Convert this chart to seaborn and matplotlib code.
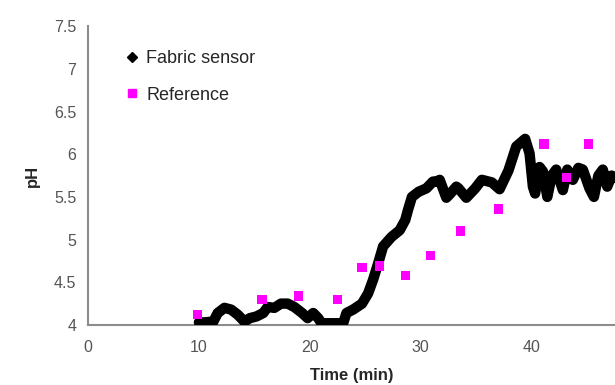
import numpy as np
import pandas as pd
import seaborn as sns
import matplotlib.pyplot as plt
from matplotlib.lines import Line2D

# Fabric sensor trace
sensor_time = [10.0, 10.5, 11.3, 11.7, 12.3, 12.9, 13.5, 14.1, 14.6, 15.2,
               15.8, 16.2, 16.8, 17.4, 18.0, 18.6, 19.3, 19.8, 20.3, 20.75,
               21.05, 22.0, 23.0, 23.3, 23.9, 24.7, 25.25, 25.7, 26.15, 26.6,
               27.35, 28.1, 28.6, 28.85, 29.2, 29.8, 30.5, 31.1, 31.4, 31.7,
               32.3, 32.6, 33.2, 33.4, 34.1, 34.9, 35.5, 36.4, 37.1, 37.9,
               38.6, 39.4, 39.8, 40.1, 40.3, 40.7, 41.0, 41.4, 41.8, 42.2,
               42.8, 43.2, 43.7, 44.2, 44.6, 45.2, 45.6, 46.0, 46.4, 46.8,
               47.2, 47.6]
sensor_ph = [4.03, 4.03, 4.04, 4.14, 4.20, 4.18, 4.12, 4.04, 4.08, 4.10,
             4.14, 4.21, 4.20, 4.25, 4.25, 4.21, 4.14, 4.08, 4.14, 4.08,
             4.02, 4.02, 4.02, 4.14, 4.18, 4.25, 4.37, 4.53, 4.72, 4.92,
             5.03, 5.11, 5.23, 5.35, 5.50, 5.56, 5.60, 5.68, 5.68, 5.70,
             5.49, 5.53, 5.62, 5.60, 5.49, 5.60, 5.70, 5.67, 5.59, 5.81,
             6.09, 6.18, 6.01, 5.62, 5.54, 5.85, 5.80, 5.50, 5.75, 5.82,
             5.58, 5.82, 5.70, 5.84, 5.82, 5.60, 5.50, 5.75, 5.82, 5.62,
             5.75, 5.72]

# Reference measurements
ref_time = [9.85, 15.7, 18.95, 22.5, 24.7, 26.3, 28.6, 30.9, 33.6, 37.0,
            41.1, 43.1, 45.1]
ref_ph = [4.12, 4.30, 4.34, 4.30, 4.67, 4.69, 4.58, 4.81, 5.10, 5.36,
          6.12, 5.73, 6.12]

sensor = pd.DataFrame({'time': sensor_time, 'ph': sensor_ph})
ref = pd.DataFrame({'time': ref_time, 'ph': ref_ph})

sns.set_style('white')
plt.rcParams['font.family'] = ['Liberation Sans', 'DejaVu Sans']

fig = plt.figure(figsize=(6.15, 3.85), dpi=100)
ax = fig.add_axes([0.143, 0.156, 0.857, 0.776])

sns.lineplot(data=sensor, x='time', y='ph', color='black', linewidth=7.5,
             solid_joinstyle='round', solid_capstyle='round', ax=ax,
             zorder=2)
sns.scatterplot(data=ref, x='time', y='ph', color='#ff00ff', marker='s',
                s=45, edgecolor='none', ax=ax, zorder=3)

ax.set_xlim(0, 47.5)
ax.set_ylim(4, 7.5)
ax.set_xticks([0, 10, 20, 30, 40])
ax.set_yticks([4, 4.5, 5, 5.5, 6, 6.5, 7, 7.5])
ax.set_yticklabels(['4', '4.5', '5', '5.5', '6', '6.5', '7', '7.5'])

for side in ['top', 'right']:
    ax.spines[side].set_visible(False)
for side in ['left', 'bottom']:
    ax.spines[side].set_color('#8c8c8c')
    ax.spines[side].set_linewidth(1.5)
    ax.spines[side].set_zorder(1)

ax.tick_params(axis='both', direction='out', length=5, width=1.2,
               color='#8c8c8c', labelcolor='#555555', labelsize=11.5)
ax.tick_params(axis='x', pad=6)

ax.set_xlabel('Time (min)', fontsize=12, fontweight='bold', labelpad=9)
ax.set_ylabel('pH', fontsize=12, fontweight='bold', labelpad=10)

handles = [
    Line2D([], [], color='black', marker='D', markersize=5, linestyle='none'),
    Line2D([], [], color='#ff00ff', marker='s', markersize=6, linestyle='none'),
]
ax.legend(handles, ['Fabric sensor', 'Reference'], loc='upper left',
          bbox_to_anchor=(0.035, 0.975), frameon=False, fontsize=13,
          handletextpad=0.3, handlelength=1.0, labelspacing=1.1)

fig.savefig('out.png', dpi=100)
